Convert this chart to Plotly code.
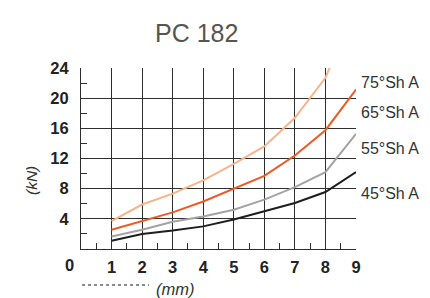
import plotly.graph_objects as go

x_mm = [1, 2, 3, 4, 5, 6, 7, 8, 9]
sh75 = [3.7, 5.9, 7.35, 9.1, 11.3, 13.6, 17.4, 22.7, 32.5]
sh65 = [2.55, 3.75, 4.85, 6.3, 7.95, 9.7, 12.4, 15.75, 21.15]
sh55 = [1.65, 2.55, 3.6, 4.3, 5.2, 6.55, 8.2, 10.2, 15.25]
sh45 = [1.1, 2.0, 2.45, 3.0, 3.9, 5.0, 6.1, 7.55, 10.2]
series_names = ["75°Sh A", "65°Sh A", "55°Sh A", "45°Sh A"]
series_colors = ["#F7B389", "#EE5A24", "#A3A3A3", "#1E1E1E"]
label_y = [82, 112, 148, 193]  # page-pixel positions of the right-hand labels
x_ticks = [1, 2, 3, 4, 5, 6, 7, 8, 9]
y_ticks = [4, 8, 12, 16, 20, 24]

OFF = 8  # default body margin of the page
W, H = 430 - OFF, 298 - OFF
ML, MT = 81 - OFF, 68 - OFF
MR = W - (356 - OFF)
MB = H - (249 - OFF)
PW, PH = W - ML - MR, H - MT - MB

fig = go.Figure()
for vals, name, col in zip([sh75, sh65, sh55, sh45], series_names, series_colors):
    fig.add_trace(go.Scatter(x=x_mm, y=vals, mode="lines", name=name,
                             line=dict(color=col, width=2), showlegend=False))

tickfont = dict(family="Liberation Sans, Arial", size=16.5, color="#222", weight="bold")
grid = "#2e2e2e"
fig.update_xaxes(range=[0, 9], tickvals=x_ticks, ticktext=[str(v) for v in x_ticks],
                 showgrid=True, gridcolor=grid, gridwidth=1,
                 showline=True, linecolor=grid, linewidth=1,
                 ticks="", tickfont=tickfont, zeroline=False, ticklabelstandoff=3,
                 minor=dict(tickvals=[0.5 + i for i in range(9)], ticks="inside",
                            ticklen=6, tickcolor=grid, showgrid=False))
fig.update_yaxes(range=[0, 24], tickvals=y_ticks, ticktext=[str(v) for v in y_ticks],
                 showgrid=True, gridcolor=grid, gridwidth=1,
                 showline=True, linecolor=grid, linewidth=1,
                 ticks="", tickfont=tickfont, zeroline=False, ticklabelstandoff=8,
                 minor=dict(tickvals=[2 + 4 * i for i in range(6)], ticks="inside",
                            ticklen=6, tickcolor=grid, showgrid=False))

def px(xp):
    return (xp - OFF - ML) / PW

def py(yp):
    return (H - MB - (yp - OFF)) / PH

def note(text, xp, yp, font, xanchor="center", **kw):
    return dict(text=text, x=px(xp), y=py(yp), xref="paper", yref="paper",
                xanchor=xanchor, yanchor="middle", showarrow=False, font=font, **kw)

ann = []
ann.append(note("PC 182", 196, 33, dict(family="Liberation Sans, Arial", size=25, color="#555")))
for name, ly in zip(series_names, label_y):
    ann.append(note(name, 359, ly,
                    dict(family="Liberation Sans Narrow, Liberation Sans, Arial", size=16, color="#333"),
                    xanchor="left"))
ann.append(note("<b>0</b>", 69, 265, tickfont))
ann.append(note("<i>(kN)</i>", 31, 181, dict(family="Liberation Sans, Arial", size=15.5, color="#333"),
                textangle=-90))
ann.append(note("<i>(mm)</i>", 175, 289, dict(family="Liberation Sans, Arial", size=16.5, color="#333")))

fig.update_layout(width=W, height=H, margin=dict(l=ML, r=MR, t=MT, b=MB, pad=0),
                  plot_bgcolor="white", paper_bgcolor="white", annotations=ann,
                  shapes=[dict(type="line", xref="paper", yref="paper",
                               x0=px(82), x1=px(149), y0=py(285), y1=py(285),
                               line=dict(color="#666", width=1.5, dash="dot"))])

fig.write_html("out.html")
